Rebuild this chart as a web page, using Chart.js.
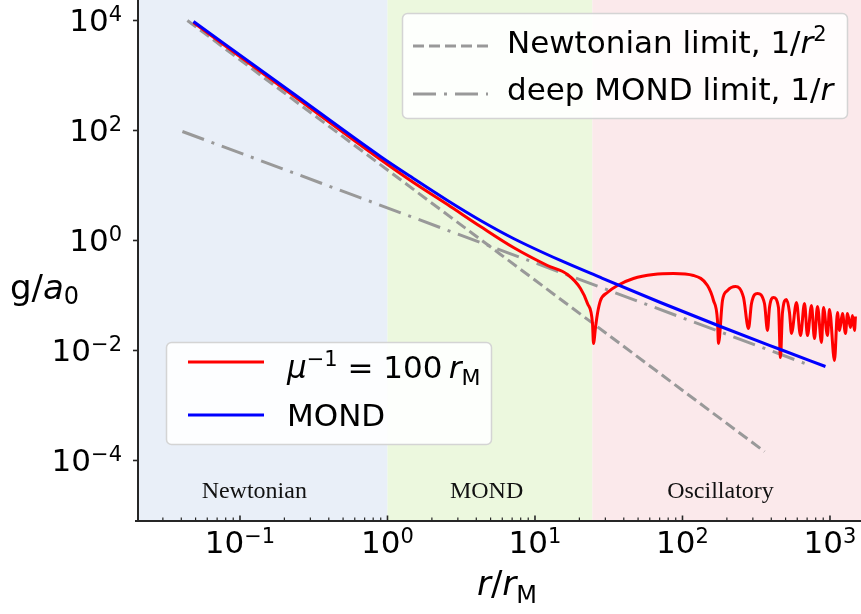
<!DOCTYPE html>
<html>
<head>
<meta charset="utf-8">
<script src="https://cdn.jsdelivr.net/npm/chart.js@4.4.0/dist/chart.umd.min.js"></script>
<style>
  html, body { margin: 0; padding: 0; background: #fff; }
</style>
</head>
<body>
<canvas id="chart" width="861" height="614"></canvas>
<script>
// Values (r in r_M, g in a0)
const rNewton = [0.044, 360];
const gNewton = [1e4, 1.45e-4];

const rDeepMond = [0.0407, 715];
const gDeepMond = [96, 0.0055];

const rMond = [0.0484, 0.220, 0.8965, 1.501, 2.552, 4.272, 7.15, 14.89, 27.8, 70.9, 181.0, 461.7, 932];
const gMond = [9590, 512, 33.7, 13.41, 5.34, 2.31, 1.087, 0.433, 0.2125, 0.0746, 0.0273, 0.01043, 0.00512];

const rYukawa = [
    0.0484, 0.220, 0.8965, 1.501, 2.552, 4.272, 7.15, 12.15, 16.61, 20.35, 22.70, 24.54, 24.93,
    25.72, 26.53, 27.8, 31.0, 36.25, 46.5, 63.6, 86.9, 118.8, 147.7, 162.3, 172.7, 175.4,
    186.7, 201.9, 228.8, 259.2, 280.3,
    293.7, 322.4, 359.7, 377.0,
    388.9, 414.0, 447.5, 461.7,
    476.4, 507.2, 531.4, 548.3,
    592.8, 631.0, 671.6, 703.9, 749.1, 785.0, 823.0, 875.9, 903.6, 961.8,
    992.2, 1073, 1124, 1160, 1215, 1274, 1314, 1377, 1421, 1466, 1489
];
const gYukawa = [
    9195, 470.8, 29.7, 11.34, 4.51, 1.797, 0.746, 0.351, 0.2408, 0.134, 0.0716, 0.03097, 0.01341,
    0.0262, 0.0471, 0.0811, 0.1134, 0.152, 0.2038, 0.2408, 0.2512, 0.2310, 0.152, 0.0811, 0.0351, 0.01341,
    0.0811, 0.1233, 0.1457, 0.0920, 0.0251,
    0.0715, 0.1087, 0.0715, 0.0231,
    0.0605, 0.0920, 0.0605, 0.00746,
    0.0491, 0.0846, 0.0491, 0.0204,
    0.0746, 0.0187, 0.0716, 0.0187, 0.0658, 0.01652, 0.0631, 0.01398, 0.0605, 0.0187,
    0.0557, 0.00658, 0.0491, 0.0231, 0.0471, 0.0204, 0.0471, 0.0262, 0.0433, 0.0231, 0.0415
];

const xTickValues = [0.1, 1, 10, 100, 1000];
const xTickExponents = ['\u22121', '0', '1', '2', '3'];
const yTickValues = [1e4, 1e2, 1, 1e-2, 1e-4];
const yTickExponents = ['4', '2', '0', '\u22122', '\u22124'];

const regionNames = ['Newtonian', 'MOND', 'Oscillatory'];
const regionEdges = [1, 24.5];
const regionLabelR = [0.125, 4.7, 181];

const SANS = "'DejaVu Sans', sans-serif";
const SERIF = "'Liberation Serif', 'DejaVu Serif', serif";
const GREY = 'rgb(153,153,153)';
const regionColors = ['#e9eff8', '#ecf8de', '#fbe9eb'];

const toPoints = (xs, ys) => xs.map((x, i) => ({ x, y: ys[i] }));

// mixed text: parts = [{ t, i: italic, s: scale, dy }]
function fontFor(p, size) {
    return `${p.i ? 'italic ' : ''}${Math.round(size * (p.s || 1))}px ${SANS}`;
}
function drawRich(ctx, parts, x, y, size, align = 'left') {
    let w = 0;
    parts.forEach(p => { ctx.font = fontFor(p, size); w += ctx.measureText(p.t).width; });
    let cx = align === 'center' ? x - w / 2 : align === 'right' ? x - w : x;
    ctx.textAlign = 'left';
    ctx.textBaseline = 'alphabetic';
    parts.forEach(p => {
        ctx.font = fontFor(p, size);
        ctx.fillText(p.t, cx, y + (p.dy || 0));
        cx += ctx.measureText(p.t).width;
    });
}
const powerLabel = exp => [{ t: '10' }, { t: exp, s: 0.68, dy: -10 }];

function legendBox(ctx, x, y, w, h) {
    ctx.beginPath();
    ctx.roundRect(x, y, w, h, 5);
    ctx.fillStyle = 'rgba(255,255,255,0.9)';
    ctx.fill();
    ctx.lineWidth = 1.5;
    ctx.strokeStyle = '#d4d4d4';
    ctx.stroke();
}
function legendLine(ctx, x0, x1, y, color, dash) {
    ctx.beginPath();
    ctx.setLineDash(dash);
    ctx.strokeStyle = color;
    ctx.lineWidth = 3;
    ctx.moveTo(x0, y);
    ctx.lineTo(x1, y);
    ctx.stroke();
    ctx.setLineDash([]);
}

const decor = {
    id: 'decor',
    beforeDatasetsDraw(chart) {
        const { ctx, chartArea: a, scales: { x } } = chart;
        const edges = [a.left, ...regionEdges.map(v => x.getPixelForValue(v)), a.right];
        ctx.save();
        regionColors.forEach((c, i) => {
            ctx.fillStyle = c;
            ctx.fillRect(edges[i], a.top, edges[i + 1] - edges[i], a.bottom - a.top);
        });
        ctx.fillStyle = '#111';
        ctx.font = `24px ${SERIF}`;
        ctx.textAlign = 'center';
        ctx.textBaseline = 'alphabetic';
        regionNames.forEach((n, i) => ctx.fillText(n, x.getPixelForValue(regionLabelR[i]), a.bottom - 23));
        ctx.restore();
    },
    afterDraw(chart) {
        const { ctx, chartArea: a, scales: { x, y } } = chart;
        ctx.save();
        ctx.strokeStyle = '#262626';
        ctx.fillStyle = '#000';

        // spines
        ctx.lineWidth = 2;
        ctx.beginPath();
        ctx.moveTo(a.left, a.top);
        ctx.lineTo(a.left, a.bottom + 1);
        ctx.moveTo(a.left - 3, a.bottom);
        ctx.lineTo(a.right, a.bottom);
        ctx.stroke();

        // y ticks (outward)
        ctx.lineWidth = 1.6;
        yTickValues.forEach((v, i) => {
            const py = y.getPixelForValue(v);
            ctx.beginPath();
            ctx.moveTo(a.left - 5, py);
            ctx.lineTo(a.left, py);
            ctx.stroke();
            drawRich(ctx, powerLabel(yTickExponents[i]), a.left - 16, py + 11, 31, 'right');
        });

        // x ticks (inward), minor every 2..9
        const lo = Math.floor(Math.log10(x.min)), hi = Math.ceil(Math.log10(x.max));
        ctx.lineWidth = 1.2;
        for (let e = lo; e <= hi; e++) {
            for (let m = 2; m <= 9; m++) {
                const v = m * Math.pow(10, e);
                if (v <= x.min || v >= x.max) continue;
                const px = x.getPixelForValue(v);
                ctx.beginPath();
                ctx.moveTo(px, a.bottom);
                ctx.lineTo(px, a.bottom - 3.5);
                ctx.stroke();
            }
        }
        ctx.lineWidth = 1.6;
        xTickValues.forEach((v, i) => {
            const px = x.getPixelForValue(v);
            ctx.beginPath();
            ctx.moveTo(px, a.bottom);
            ctx.lineTo(px, a.bottom - 5.5);
            ctx.stroke();
            drawRich(ctx, powerLabel(xTickExponents[i]), px, a.bottom + 32, 31, 'center');
        });

        // axis titles
        drawRich(ctx, [{ t: 'g/' }, { t: 'a', i: true }, { t: '0', s: 0.72, dy: 5 }], 10, 299, 34);
        drawRich(ctx, [{ t: 'r', i: true }, { t: '/' }, { t: 'r', i: true }, { t: 'M', s: 0.7, dy: 8 }],
            507, 595, 34, 'center');

        // legend: limits
        legendBox(ctx, 402.5, 13.5, 445, 105);
        legendLine(ctx, 413, 488, 46, GREY, [11, 5]);
        legendLine(ctx, 413, 488, 94, GREY, [23, 8, 3, 8]);
        ctx.fillStyle = '#000';
        drawRich(ctx, [{ t: 'Newtonian limit, 1/' }, { t: 'r', i: true }, { t: '2', s: 0.68, dy: -12 }], 507, 53, 31);
        drawRich(ctx, [{ t: 'deep MOND limit, 1/' }, { t: 'r', i: true }], 507, 100, 31);

        // legend: curves
        legendBox(ctx, 166.5, 342.5, 325, 102);
        legendLine(ctx, 188, 264, 362, '#ff0000', []);
        legendLine(ctx, 188, 264, 415, '#0000ff', []);
        ctx.fillStyle = '#000';
        drawRich(ctx, [
            { t: '\u03bc', i: true }, { t: '\u22121', s: 0.68, dy: -12 }, { t: ' = 100\u2009' },
            { t: 'r', i: true }, { t: 'M', s: 0.7, dy: 7 }
        ], 287, 378, 31);
        drawRich(ctx, [{ t: 'MOND' }], 287, 426, 31);

        ctx.restore();
    }
};

const line = (data, color, extra = {}) => Object.assign({
    data,
    borderColor: color,
    borderWidth: 3,
    pointRadius: 0,
    fill: false,
    borderJoinStyle: 'round',
    cubicInterpolationMode: 'monotone',
}, extra);

new Chart(document.getElementById('chart'), {
    type: 'line',
    data: {
        datasets: [
            line(toPoints(rMond, gMond), '#0000ff', { label: 'MOND' }),
            line(toPoints(rYukawa, gYukawa), '#ff0000', { label: 'mu^-1 = 100 r_M' }),
            line(toPoints(rDeepMond, gDeepMond), GREY, { label: 'deep MOND limit, 1/r', borderDash: [23, 8, 3, 8] }),
            line(toPoints(rNewton, gNewton), GREY, { label: 'Newtonian limit, 1/r^2', borderDash: [11, 5] }),
        ]
    },
    options: {
        responsive: false,
        animation: false,
        layout: { padding: { left: 138, right: 0, top: 0, bottom: 93 } },
        plugins: { legend: { display: false }, tooltip: { enabled: false } },
        scales: {
            x: { type: 'logarithmic', min: 0.02035, max: 1623, bounds: 'data', display: false },
            y: { type: 'logarithmic', min: 7.94e-6, max: 23590, bounds: 'data', display: false },
        },
    },
    plugins: [decor],
});
</script>
</body>
</html>
